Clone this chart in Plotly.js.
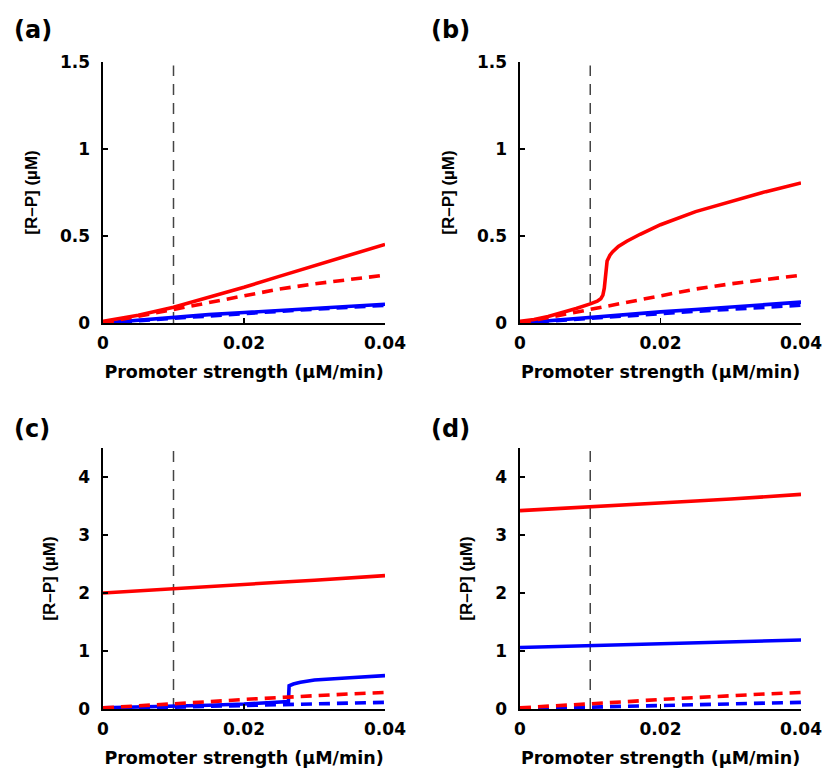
<!DOCTYPE html>
<html>
<head>
<meta charset="utf-8">
<script src="https://cdn.plot.ly/plotly-3.0.1.min.js"></script>
<style>html,body{margin:0;padding:0;background:#fff;}#chart{width:826px;height:772px;}</style>
</head>
<body>
<div id="chart"></div>
<script>
// ---------- data ----------
const xGrid = [0, 0.005, 0.01, 0.015, 0.02, 0.025, 0.03, 0.035, 0.04];
const xTicks = [0, 0.02, 0.04];
const xTickText = ['0', '0.02', '0.04'];
const yTicksTop = [0, 0.5, 1, 1.5];
const yTickTextTop = ['0', '0.5', '1', '1.5'];
const yTicksBottom = [0, 1, 2, 3, 4];
const yTickTextBottom = ['0', '1', '2', '3', '4'];
const thresholdX = [0.01, 0.01];
const thresholdYTop = [0, 1.48];
const thresholdYBottom = [0, 4.45];

// reference (dashed) curves
const redDashed = [0, 0.04, 0.08, 0.12, 0.16, 0.195, 0.225, 0.252, 0.275];
const blueDashed = [0, 0.014, 0.03, 0.043, 0.055, 0.067, 0.079, 0.09, 0.102];
const redDashedLow = [0.02, 0.05, 0.085, 0.125, 0.165, 0.2, 0.23, 0.26, 0.285];
const blueDashedLow = [0.005, 0.018, 0.035, 0.05, 0.065, 0.08, 0.093, 0.105, 0.115];

// panel (a)
const aRedSolid = [0.01, 0.045, 0.09, 0.145, 0.205, 0.268, 0.33, 0.39, 0.452];
const aBlueSolid = [0, 0.017, 0.035, 0.048, 0.06, 0.072, 0.084, 0.096, 0.108];

// panel (b)
const bRedX = [0, 0.002, 0.004, 0.006, 0.008, 0.01, 0.011, 0.0115, 0.0118, 0.012, 0.0122, 0.0124, 0.0128, 0.0132, 0.014, 0.0152, 0.0171, 0.02, 0.025, 0.03, 0.035, 0.04];
const bRedSolid = [0.01, 0.02, 0.038, 0.058, 0.083, 0.11, 0.125, 0.14, 0.16, 0.2, 0.3, 0.356, 0.39, 0.41, 0.44, 0.47, 0.51, 0.565, 0.64, 0.7, 0.755, 0.805];
const bBlueSolid = [0, 0.017, 0.035, 0.05, 0.064, 0.078, 0.092, 0.106, 0.12];

// panel (c)
const cRedSolid = [2.0, 2.04, 2.08, 2.115, 2.15, 2.185, 2.22, 2.26, 2.3];
const cBlueX = [0, 0.005, 0.01, 0.015, 0.02, 0.025, 0.0263, 0.0264, 0.027, 0.028, 0.029, 0.03, 0.035, 0.04];
const cBlueSolid = [0.02, 0.03, 0.045, 0.065, 0.085, 0.11, 0.13, 0.4, 0.43, 0.46, 0.48, 0.5, 0.54, 0.575];

// panel (d)
const dRedSolid = [3.42, 3.45, 3.48, 3.515, 3.55, 3.585, 3.62, 3.66, 3.7];
const dBlueSolid = [1.06, 1.075, 1.09, 1.105, 1.12, 1.135, 1.15, 1.17, 1.19];

const panelLabels = ['(a)', '(b)', '(c)', '(d)'];

// ---------- styles ----------
const F = 'DejaVu Sans, Verdana, sans-serif';
const F2 = 'Liberation Sans, Arial, Helvetica, sans-serif';
const RED = '#ff0000', BLUE = '#0000ff';
const W = 826, H = 772;

function solid(x, y, color, xa, ya) {
  return {x, y, xaxis: xa, yaxis: ya, type: 'scatter', mode: 'lines',
    line: {color, width: 3.6}, hoverinfo: 'skip', showlegend: false};
}
function dashed(x, y, color, xa, ya) {
  return {x, y, xaxis: xa, yaxis: ya, type: 'scatter', mode: 'lines',
    line: {color, width: 3.6, dash: '11px,7px'}, hoverinfo: 'skip', showlegend: false};
}
function vline(y, xa, ya) {
  return {x: thresholdX, y, xaxis: xa, yaxis: ya, type: 'scatter', mode: 'lines',
    line: {color: '#444', width: 1.5, dash: '11px,8px'}, hoverinfo: 'skip', showlegend: false};
}

const traces = [
  // (a)
  vline(thresholdYTop, 'x', 'y'),
  dashed(xGrid, blueDashed, BLUE, 'x', 'y'),
  solid(xGrid, aBlueSolid, BLUE, 'x', 'y'),
  dashed(xGrid, redDashed, RED, 'x', 'y'),
  solid(xGrid, aRedSolid, RED, 'x', 'y'),
  // (b)
  vline(thresholdYTop, 'x2', 'y2'),
  dashed(xGrid, blueDashed, BLUE, 'x2', 'y2'),
  solid(xGrid, bBlueSolid, BLUE, 'x2', 'y2'),
  dashed(xGrid, redDashed, RED, 'x2', 'y2'),
  solid(bRedX, bRedSolid, RED, 'x2', 'y2'),
  // (c)
  vline(thresholdYBottom, 'x3', 'y3'),
  solid(cBlueX, cBlueSolid, BLUE, 'x3', 'y3'),
  dashed(xGrid, blueDashedLow, BLUE, 'x3', 'y3'),
  dashed(xGrid, redDashedLow, RED, 'x3', 'y3'),
  solid(xGrid, cRedSolid, RED, 'x3', 'y3'),
  // (d)
  vline(thresholdYBottom, 'x4', 'y4'),
  solid(xGrid, dBlueSolid, BLUE, 'x4', 'y4'),
  dashed(xGrid, blueDashedLow, BLUE, 'x4', 'y4'),
  dashed(xGrid, redDashedLow, RED, 'x4', 'y4'),
  solid(xGrid, dRedSolid, RED, 'x4', 'y4')
];

const tickFont = {family: F, size: 17, weight: 'bold', color: '#000'};
const titleFont = {family: F, size: 17.5, weight: 'bold', color: '#000'};

function xax(x0, x1, anchor) {
  return {domain: [x0 / W, x1 / W], anchor, range: [0, 0.04],
    tickvals: xTicks, ticktext: xTickText, showline: true, linecolor: '#000', linewidth: 1.6,
    ticks: 'inside', ticklen: 5, tickcolor: '#000', tickwidth: 1.3, showgrid: false, zeroline: false,
    tickfont: tickFont, ticklabelstandoff: 4,
    title: {text: 'Promoter strength (µM/min)', font: titleFont, standoff: 14}, fixedrange: true};
}
function yax(top, bottom, anchor, maxY, tv, tt) {
  return {domain: [1 - bottom / H, 1 - top / H], anchor, range: [0, maxY],
    tickvals: tv, ticktext: tt, showline: true, linecolor: '#000', linewidth: 1.6,
    ticks: 'inside', ticklen: 5, tickcolor: '#000', tickwidth: 1.3, showgrid: false, zeroline: false,
    tickfont: tickFont, ticklabelstandoff: 8,
    title: {text: '[R–P] (µM)', font: {family: F2, size: 17, weight: 'bold', color: '#000'}, standoff: 18},
    fixedrange: true};
}

const layout = {
  width: W, height: H,
  margin: {l: 0, r: 0, t: 0, b: 0},
  paper_bgcolor: '#fff', plot_bgcolor: '#fff',
  showlegend: false,
  xaxis: xax(103, 385, 'y'),
  yaxis: yax(62, 323, 'x', 1.5, yTicksTop, yTickTextTop),
  xaxis2: xax(520, 801, 'y2'),
  yaxis2: yax(62, 323, 'x2', 1.5, yTicksTop, yTickTextTop),
  xaxis3: xax(103, 385, 'y3'),
  yaxis3: yax(448, 709, 'x3', 4.5, yTicksBottom, yTickTextBottom),
  xaxis4: xax(520, 801, 'y4'),
  yaxis4: yax(448, 709, 'x4', 4.5, yTicksBottom, yTickTextBottom),
  annotations: [
    {text: panelLabels[0], x: 12 / W, y: 1 - 30 / H},
    {text: panelLabels[1], x: 429 / W, y: 1 - 30 / H},
    {text: panelLabels[2], x: 12 / W, y: 1 - 429 / H},
    {text: panelLabels[3], x: 429 / W, y: 1 - 429 / H}
  ].map(a => Object.assign(a, {xref: 'paper', yref: 'paper', xanchor: 'left', yanchor: 'middle',
    showarrow: false, font: {family: F, size: 24, weight: 'bold', color: '#000'}}))
};

Plotly.newPlot('chart', traces, layout, {staticPlot: true, displayModeBar: false});
</script>
</body>
</html>
